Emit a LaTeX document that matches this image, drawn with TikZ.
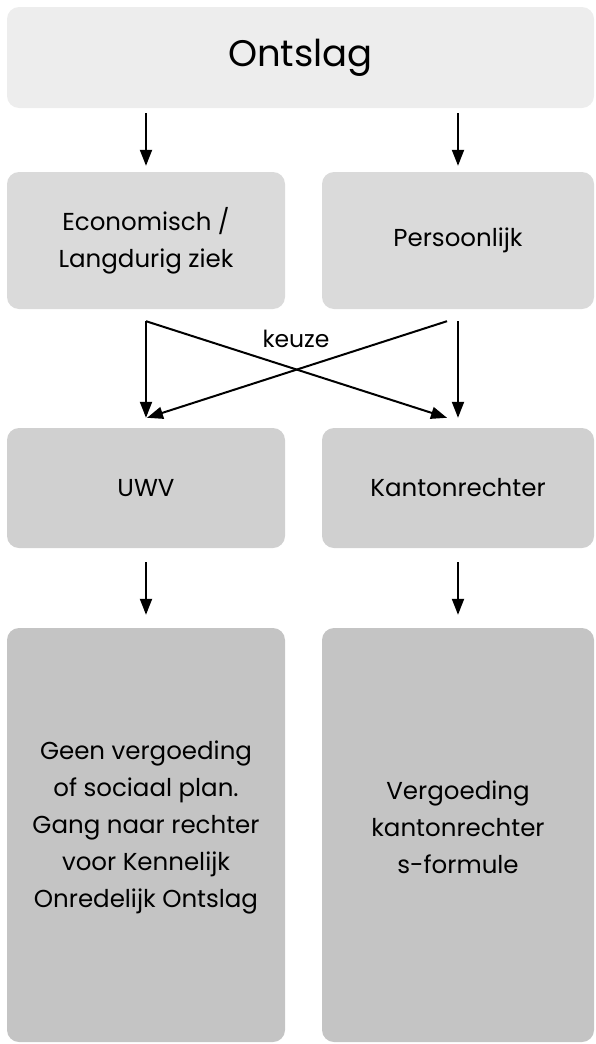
\documentclass[tikz,border=0pt]{standalone}
\usepackage{fontspec}
\setmainfont{Poppins}
\usetikzlibrary{arrows.meta}
\definecolor{c1}{RGB}{237,237,237}
\definecolor{c2}{RGB}{218,218,218}
\definecolor{c3}{RGB}{208,208,208}
\definecolor{c4}{RGB}{196,196,196}
\tikzset{
  box/.style={rectangle, rounded corners=12pt, draw=none, align=center, inner sep=0pt,
              font=\fontsize{24.5}{37}\selectfont},
  arr/.style={line width=2pt, -{Triangle[length=16pt,width=12pt]}},
  txt/.style={align=center, font=\fontsize{24.5}{37}\selectfont},
}
\begin{document}
\begin{tikzpicture}[x=1pt,y=-1pt]
\useasboundingbox (0,0) rectangle (595,1044);
\node[box, fill=c1, minimum width=587pt, minimum height=101pt, font=\fontsize{37}{44}\selectfont] (ontslag) at (300.5,57.5) {Ontslag};
\node[box, fill=c2, minimum width=278pt, minimum height=137pt] (econ) at (146,240.5) {Economisch /\\Langdurig ziek};
\node[box, fill=c2, minimum width=272pt, minimum height=137pt] (pers) at (458,240.5) {Persoonlijk};
\node[box, fill=c3, minimum width=278pt, minimum height=120pt] (uwv) at (146,488) {UWV};
\node[box, fill=c3, minimum width=272pt, minimum height=120pt] (kanton) at (458,488) {Kantonrechter};
\node[box, fill=c4, minimum width=278pt, minimum height=414pt] (res1) at (146,835) {};
\node[box, fill=c4, minimum width=272pt, minimum height=414pt] (res2) at (458,835) {};
\node[txt] (t1) at ([yshift=8pt]res1.center) {Geen vergoeding\\of sociaal plan.\\Gang naar rechter\\voor Kennelijk\\Onredelijk Ontslag};
\node[txt] (t2) at ([yshift=8pt]res2.center) {Vergoeding\\kantonrechter\\s-formule};
\draw[arr] ([yshift=-5pt]econ.north |- ontslag.south) -- ([yshift=6pt]econ.north);
\draw[arr] ([yshift=-5pt]pers.north |- ontslag.south) -- ([yshift=6pt]pers.north);
\draw[arr] ([yshift=-12pt]econ.south) -- ([yshift=10pt]uwv.north);
\draw[arr] ([yshift=-12pt]pers.south) -- ([yshift=10pt]kanton.north);
\draw[arr] ([yshift=-12pt]econ.south) -- ([xshift=-11pt,yshift=10pt]kanton.north);
\draw[arr] ([xshift=-11pt,yshift=-12pt]pers.south) -- ([xshift=1pt,yshift=10pt]uwv.north);
\node[font=\fontsize{23.5}{28}\selectfont] (keuze) at (296,339) {keuze};
\draw[arr] ([yshift=-14pt]uwv.south) -- ([yshift=13pt]res1.north);
\draw[arr] ([yshift=-14pt]kanton.south) -- ([yshift=13pt]res2.north);
\end{tikzpicture}
\end{document}
